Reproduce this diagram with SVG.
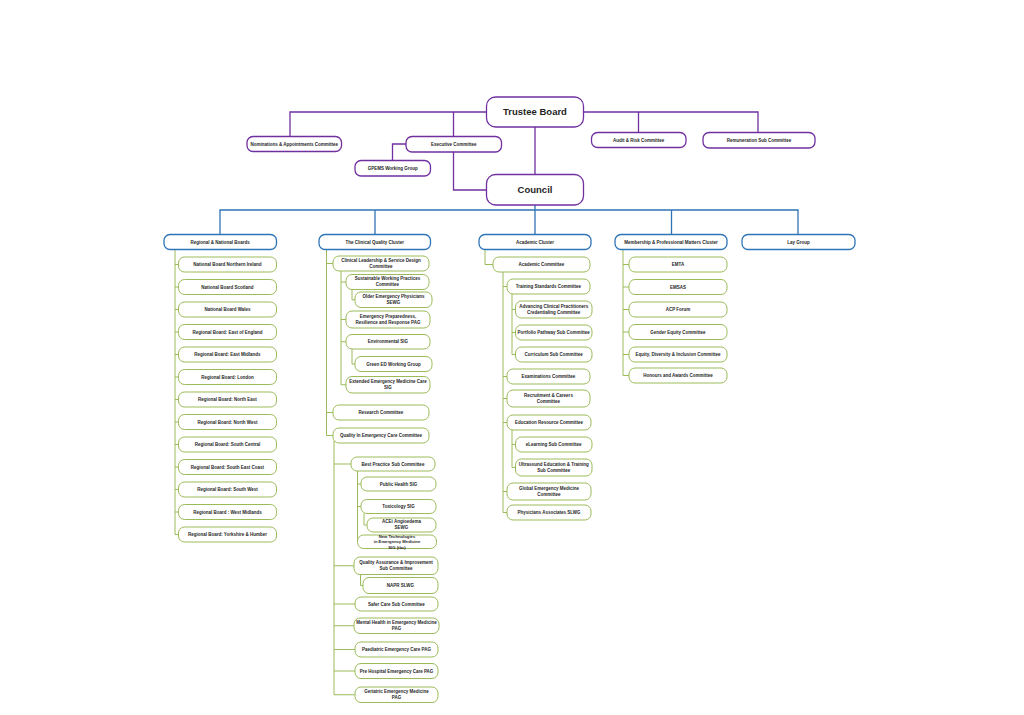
<svg xmlns="http://www.w3.org/2000/svg" width="1024" height="715" viewBox="0 0 1024 715">
<style>
.p{fill:#fff;stroke:#7030A0;stroke-width:1.3}
.b{fill:#fff;stroke:#2E75B6;stroke-width:1.3}
.g{fill:#fff;stroke:#9BBB59;stroke-width:1}
.cp{fill:none;stroke:#7030A0;stroke-width:1.3}
.cb{fill:none;stroke:#2E75B6;stroke-width:1.3}
.cg{fill:none;stroke:#9BBB59;stroke-width:1}
text{font-family:"Liberation Sans",Arial,sans-serif;font-size:4.5px;font-weight:bold;fill:#1f1f1f;text-anchor:middle}
.big{font-size:9.5px}
.sm{font-size:4.2px}
</style>
<rect width="1024" height="715" fill="#fff"/>
<g id="connectors">
<path class="cp" d="M290,136.5V112H486.5M453.5,112V136.5M583.5,112H758V132.5M638.5,112V132.5M535,127V174.5M453.5,152V190H486.5M406,144H392.5V160.5"/>
<path class="cb" d="M535,205V210M220,234.5V210H798V234.5M375,210V234.5M535,210V234.5M671.5,210V234.5"/>
<path class="cg" d="M175,249.5V534.5H178.5M175,264.5H178.5M175,287H178.5M175,309.5H178.5M175,332H178.5M175,354.5H178.5M175,377H178.5M175,399.5H178.5M175,422H178.5M175,444.5H178.5M175,467H178.5M175,489.5H178.5M175,512H178.5"/>
<path class="cg" d="M326.5,249.5V435.5H333M326.5,263.5H333M326.5,412.5H333M341,271V384.75H346M341,282H346M341,319.5H346M341,341.75H346M352,289.5V299.75H355M352,349V364H355M334,441V694.75H355M334,464H351M334,565.75H354M334,604H355M334,625.75H354M334,649.5H355M334,671H355M357.5,471V541.75M357.5,484H361M357.5,506.5H361M364,513.5V525H367M360.5,574.5V585.5H363"/>
<path class="cg" d="M485,249.5V264.5H493M503,272V512.5H507M503,286.5H507M503,376.5H507M503,398.5H507M503,422.5H507M503,491.5H507M512,294V354.5H515.5M512,309.5H515.5M512,332.5H515.5M512,430V467.5H515.5M512,444.5H515.5"/>
<path class="cg" d="M623,249.5V375.5H629M623,264.5H629M623,287H629M623,309.5H629M623,332H629M623,354.5H629"/>
</g>
<g id="trustee-board"><rect class="p" x="486.5" y="97" width="97" height="30" rx="9"/><text class="big" x="535" y="115.3">Trustee Board</text></g>
<g id="council"><rect class="p" x="486.5" y="174.5" width="97" height="30.5" rx="9"/><text class="big" x="535" y="193.1">Council</text></g>
<g id="nominations"><rect class="p" x="247" y="136.5" width="94.5" height="15" rx="6"/><text x="294.25" y="145.6">Nominations &amp; Appointments Committee</text></g>
<g id="executive"><rect class="p" x="406" y="136.5" width="95.5" height="15.5" rx="6"/><text x="453.75" y="145.8">Executive Committee</text></g>
<g id="gpems"><rect class="p" x="355" y="160.5" width="75.5" height="15.5" rx="6"/><text x="392.75" y="169.8">GPEMS Working Group</text></g>
<g id="audit"><rect class="p" x="591.5" y="132.5" width="94.5" height="15" rx="6"/><text x="638.75" y="141.6">Audit &amp; Risk Committee</text></g>
<g id="remuneration"><rect class="p" x="703" y="132.5" width="112" height="15.5" rx="6"/><text x="759" y="141.8">Remuneration Sub Committee</text></g>

<g id="regional-cluster"><rect class="b" x="164" y="234.5" width="112.5" height="15" rx="6"/><text x="220.25" y="243.6">Regional &amp; National Boards</text></g>
<g id="clinical-cluster"><rect class="b" x="319" y="234.5" width="111.5" height="15" rx="6"/><text x="374.75" y="243.6">The Clinical Quality Cluster</text></g>
<g id="academic-cluster"><rect class="b" x="479" y="234.5" width="112" height="15" rx="6"/><text x="535" y="243.6">Academic Cluster</text></g>
<g id="membership-cluster"><rect class="b" x="615" y="234.5" width="112" height="15" rx="6"/><text x="671" y="243.6">Membership &amp; Professional Matters Cluster</text></g>
<g id="lay-group"><rect class="b" x="742" y="234.5" width="113" height="15" rx="6"/><text x="798.5" y="243.6">Lay Group</text></g>

<g id="nb-ni"><rect class="g" x="178.5" y="257" width="98" height="15" rx="6"/><text x="227.5" y="266.1">National Board Northern Ireland</text></g>
<g id="nb-scotland"><rect class="g" x="178.5" y="279.5" width="98" height="15" rx="6"/><text x="227.5" y="288.6">National Board Scotland</text></g>
<g id="nb-wales"><rect class="g" x="178.5" y="302" width="98" height="15" rx="6"/><text x="227.5" y="311.1">National Board Wales</text></g>
<g id="rb-east-england"><rect class="g" x="178.5" y="324.5" width="98" height="15" rx="6"/><text x="227.5" y="333.6">Regional Board: East of England</text></g>
<g id="rb-east-midlands"><rect class="g" x="178.5" y="347" width="98" height="15" rx="6"/><text x="227.5" y="356.1">Regional Board: East Midlands</text></g>
<g id="rb-london"><rect class="g" x="178.5" y="369.5" width="98" height="15" rx="6"/><text x="227.5" y="378.6">Regional Board: London</text></g>
<g id="rb-north-east"><rect class="g" x="178.5" y="392" width="98" height="15" rx="6"/><text x="227.5" y="401.1">Regional Board: North East</text></g>
<g id="rb-north-west"><rect class="g" x="178.5" y="414.5" width="98" height="15" rx="6"/><text x="227.5" y="423.6">Regional Board: North West</text></g>
<g id="rb-south-central"><rect class="g" x="178.5" y="437" width="98" height="15" rx="6"/><text x="227.5" y="446.1">Regional Board: South Central</text></g>
<g id="rb-south-east-coast"><rect class="g" x="178.5" y="459.5" width="98" height="15" rx="6"/><text x="227.5" y="468.6">Regional Board: South East Coast</text></g>
<g id="rb-south-west"><rect class="g" x="178.5" y="482" width="98" height="15" rx="6"/><text x="227.5" y="491.1">Regional Board: South West</text></g>
<g id="rb-west-midlands"><rect class="g" x="178.5" y="504.5" width="98" height="15" rx="6"/><text x="227.5" y="513.6">Regional Board : West Midlands</text></g>
<g id="rb-yorkshire"><rect class="g" x="178.5" y="527" width="98" height="15" rx="6"/><text x="227.5" y="536.1">Regional Board: Yorkshire &amp; Humber</text></g>

<g id="clinical-leadership"><rect class="g" x="333" y="256" width="96" height="15" rx="6"/><text x="381" y="261.5">Clinical Leadership &amp; Service Design</text><text x="381" y="267.9">Committee</text></g>
<g id="sustainable"><rect class="g" x="346" y="274.5" width="83" height="15" rx="6"/><text x="387.5" y="280">Sustainable Working Practices</text><text x="387.5" y="286.4">Committee</text></g>
<g id="older-em"><rect class="g" x="355" y="292" width="77" height="15.5" rx="6"/><text x="393.5" y="297.8">Older Emergency Physicians</text><text x="393.5" y="304.2">SEWG</text></g>
<g id="emergency-preparedness"><rect class="g" x="346" y="311" width="84" height="17" rx="6"/><text x="388" y="317.5">Emergency Preparedness,</text><text x="388" y="323.9">Resilience and Response PAG</text></g>
<g id="environmental"><rect class="g" x="346" y="334.5" width="84" height="14.5" rx="6"/><text x="388" y="343.3">Environmental SIG</text></g>
<g id="green-ed"><rect class="g" x="355" y="356.5" width="77" height="15" rx="6"/><text x="393.5" y="365.6">Green ED Working Group</text></g>
<g id="extended-em"><rect class="g" x="346" y="376.5" width="84" height="16.5" rx="6"/><text x="388" y="382.8">Extended Emergency Medicine Care</text><text x="388" y="389.2">SIG</text></g>
<g id="research"><rect class="g" x="333" y="405" width="96" height="15" rx="6"/><text x="381" y="414.1">Research Committee</text></g>
<g id="quality-em"><rect class="g" x="333" y="428" width="96" height="15" rx="6"/><text x="381" y="437.1">Quality In Emergency Care Committee</text></g>
<g id="best-practice"><rect class="g" x="351" y="457" width="84" height="14" rx="6"/><text x="393" y="465.6">Best Practice Sub Committee</text></g>
<g id="public-health"><rect class="g" x="361" y="477" width="75" height="14" rx="6"/><text x="398.5" y="485.6">Public Health SIG</text></g>
<g id="toxicology"><rect class="g" x="361" y="499.5" width="75" height="14" rx="6"/><text x="398.5" y="508.1">Toxicology SIG</text></g>
<g id="acei"><rect class="g" x="367" y="518" width="69" height="14" rx="6"/><text x="401.5" y="523">ACEi Angioedema</text><text x="401.5" y="529.4">SEWG</text></g>
<g id="new-tech"><rect class="g" x="357.5" y="535" width="79" height="13.5" rx="6"/><text class="sm" x="397" y="537.5">New Technologies</text><text class="sm" x="397" y="543">in Emergency Medicine</text><text class="sm" x="397" y="548.5">SIG (tbc)</text></g>
<g id="quality-assurance"><rect class="g" x="354" y="557" width="84" height="17.5" rx="6"/><text x="396" y="563.8">Quality Assurance &amp; Improvement</text><text x="396" y="570.2">Sub Committee</text></g>
<g id="napr"><rect class="g" x="363" y="577.5" width="75" height="16" rx="6"/><text x="400.5" y="587.1">NAPR SLWG</text></g>
<g id="safer-care"><rect class="g" x="355" y="597" width="83" height="14" rx="6"/><text x="396.5" y="605.6">Safer Care Sub Committee</text></g>
<g id="mental-health"><rect class="g" x="354" y="618" width="85" height="15.5" rx="6"/><text x="396.5" y="623.8">Mental Health in Emergency Medicine</text><text x="396.5" y="630.2">PAG</text></g>
<g id="paediatric"><rect class="g" x="355" y="642" width="83" height="15" rx="6"/><text x="396.5" y="651.1">Paediatric Emergency Care PAG</text></g>
<g id="pre-hospital"><rect class="g" x="355" y="663.5" width="83" height="15" rx="6"/><text x="396.5" y="672.6">Pre Hospital Emergency Care PAG</text></g>
<g id="geriatric"><rect class="g" x="355" y="687" width="83" height="15.5" rx="6"/><text x="396.5" y="692.8">Geriatric Emergency Medicine</text><text x="396.5" y="699.2">PAG</text></g>

<g id="academic-committee"><rect class="g" x="493" y="257" width="97" height="15" rx="6"/><text x="541.5" y="266.1">Academic Committee</text></g>
<g id="training-standards"><rect class="g" x="507" y="279" width="83" height="15" rx="6"/><text x="548.5" y="288.1">Training Standards Committee</text></g>
<g id="acp-credentialing"><rect class="g" x="515.5" y="301" width="76.5" height="17" rx="6"/><text x="553.75" y="307.5">Advancing Clinical Practitioners</text><text x="553.75" y="313.9">Credentialing Committee</text></g>
<g id="portfolio"><rect class="g" x="515.5" y="325" width="76.5" height="15" rx="6"/><text x="553.75" y="334.1">Portfolio Pathway Sub Committee</text></g>
<g id="curriculum"><rect class="g" x="515.5" y="347" width="76.5" height="15" rx="6"/><text x="553.75" y="356.1">Curriculum Sub Committee</text></g>
<g id="examinations"><rect class="g" x="507" y="369" width="83" height="15" rx="6"/><text x="548.5" y="378.1">Examinations Committee</text></g>
<g id="recruitment"><rect class="g" x="507" y="390" width="83" height="17" rx="6"/><text x="548.5" y="396.5">Recruitment &amp; Careers</text><text x="548.5" y="402.9">Committee</text></g>
<g id="education-resource"><rect class="g" x="507" y="415" width="84" height="15" rx="6"/><text x="549" y="424.1">Education Resource Committee</text></g>
<g id="elearning"><rect class="g" x="515.5" y="437" width="76.5" height="15" rx="6"/><text x="553.75" y="446.1">eLearning Sub Committee</text></g>
<g id="ultrasound"><rect class="g" x="515.5" y="459" width="76.5" height="17" rx="6"/><text x="553.75" y="465.5">Ultrasound Education &amp; Training</text><text x="553.75" y="471.9">Sub Committee</text></g>
<g id="global-em"><rect class="g" x="507" y="483" width="84" height="17" rx="6"/><text x="549" y="489.5">Global Emergency Medicine</text><text x="549" y="495.9">Committee</text></g>
<g id="physicians-associates"><rect class="g" x="507" y="505" width="84" height="15" rx="6"/><text x="549" y="514.1">Physicians Associates SLWG</text></g>

<g id="emta"><rect class="g" x="629" y="257" width="98" height="15" rx="6"/><text x="678" y="266.1">EMTA</text></g>
<g id="emsas"><rect class="g" x="629" y="279.5" width="98" height="15" rx="6"/><text x="678" y="288.6">EMSAS</text></g>
<g id="acp-forum"><rect class="g" x="629" y="302" width="98" height="15" rx="6"/><text x="678" y="311.1">ACP Forum</text></g>
<g id="gender-equity"><rect class="g" x="629" y="324.5" width="98" height="15" rx="6"/><text x="678" y="333.6">Gender Equity Committee</text></g>
<g id="edi"><rect class="g" x="629" y="347" width="98" height="15" rx="6"/><text x="678" y="356.1">Equity, Diversity &amp; Inclusion Committee</text></g>
<g id="honours"><rect class="g" x="629" y="368" width="98" height="15" rx="6"/><text x="678" y="377.1">Honours and Awards Committee</text></g>
</svg>
